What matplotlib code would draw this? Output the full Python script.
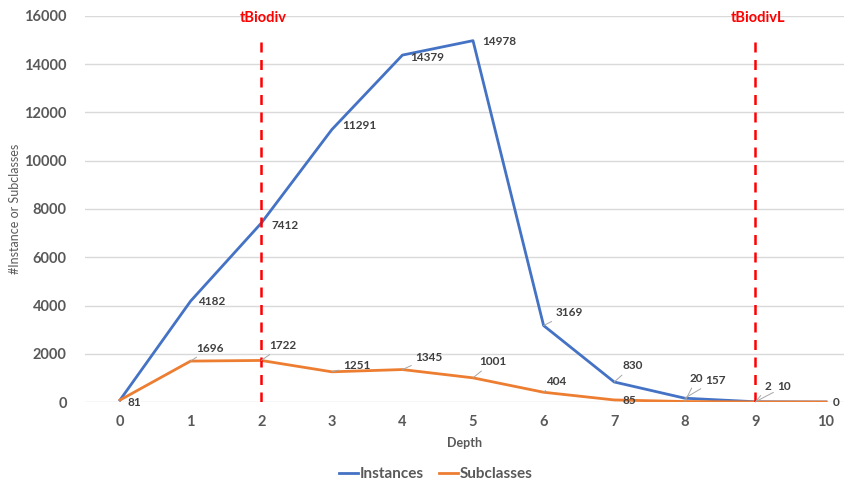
import matplotlib.pyplot as plt

plt.rcParams['font.family'] = ['Lato', 'DejaVu Sans']

depth = [0, 1, 2, 3, 4, 5, 6, 7, 8, 9, 10]
instances = [81, 4182, 7412, 11291, 14379, 14978, 3169, 830, 157, 10, 0]
subclasses = [81, 1696, 1722, 1251, 1345, 1001, 404, 85, 20, 2, 0]
markers = {'tBiodiv': 2, 'tBiodivL': 9}

# label offsets in pixels (dx, dy) and whether a leader line is drawn
inst_offsets = [None, (7, 0, False), (10, -2, False), (10, 4, False), (8, -2, False),
                (9, -1, False), (12, 13, True), (8, 16, True), (20, 18, True),
                (22, 15, True), (7, 0, False)]
sub_offsets = [(8, -2, False), (6, 13, True), (8, 15, True), (11, 6, True),
               (13, 12, True), (6, 16, True), (2, 11, True), (8, -1, False),
               (5, 23, True), (9, 15, True), None]

BLUE = '#4472C4'
ORANGE = '#ED7D31'
TXT = '#595959'

fig = plt.figure(figsize=(8.45, 4.88), dpi=100)
ax = fig.add_axes([84.7 / 845, 86 / 488, (845 - 84.7) / 845, 386 / 488])

ax.plot(depth, instances, color=BLUE, lw=2, label='Instances', zorder=3)
ax.plot(depth, subclasses, color=ORANGE, lw=2, label='Subclasses', zorder=3)


def add_labels(values, offsets):
    for x, v, off in zip(depth, values, offsets):
        if off is None:
            continue
        dx, dy, leader = off
        props = None
        if leader:
            props = dict(arrowstyle='-', color='#A6A6A6', lw=0.7,
                         shrinkA=1, shrinkB=0)
        ax.annotate(str(v), (x, v), xytext=(dx, dy), textcoords='offset pixels',
                    ha='left', va='center', fontsize=8.5, fontweight='bold',
                    color='#404040', arrowprops=props, zorder=5)


add_labels(instances, inst_offsets)
add_labels(subclasses, sub_offsets)

for name, x in markers.items():
    ax.plot([x, x], [0, 15100], color='red', lw=1.8, ls=(0, (4, 3)), zorder=4)
    ax.text(x + 0.03, 15900, name, color='red', fontsize=10.5, fontweight='bold',
            ha='center', va='center')

ax.set_xlim(-0.5, (845 - 120) / 70.6)
ax.set_ylim(0, 16000)
ax.set_xticks(depth)
ax.set_yticks(range(0, 16001, 2000))
ax.tick_params(length=0, labelsize=10.5, labelcolor=TXT, pad=9)
for lbl in ax.get_xticklabels() + ax.get_yticklabels():
    lbl.set_fontweight('bold')
ax.tick_params(axis='y', pad=13)
ax.grid(axis='y', color='#D9D9D9', lw=1)
ax.set_axisbelow(True)
for s in ax.spines.values():
    s.set_visible(False)

ax.set_xlabel('Depth', fontsize=9, fontweight='bold', color=TXT, labelpad=6)
ax.set_ylabel('#Instance or Subclasses', fontsize=9, color=TXT, labelpad=2)

fig.legend(loc='center', bbox_to_anchor=(436 / 845, 1 - 474 / 488), ncol=2,
           frameon=False, handlelength=1.2, columnspacing=1.0,
           handletextpad=0.15, prop={'weight': 'bold', 'size': 11},
           labelcolor=TXT)

fig.savefig('out.png', dpi=100)
